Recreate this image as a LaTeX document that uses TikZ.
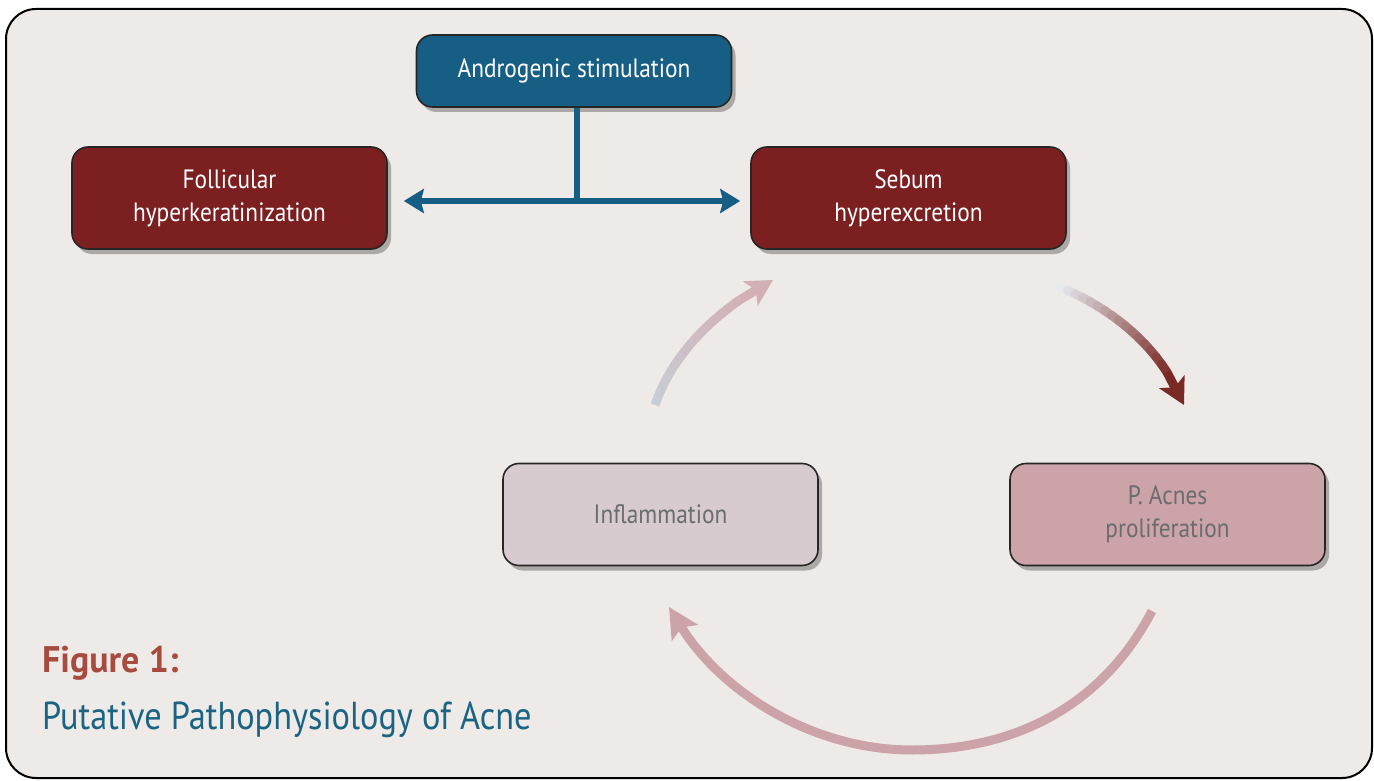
\documentclass[tikz,border=0pt]{standalone}
\usepackage{fontspec}
\setmainfont{PT Sans}[FakeStretch=0.88]
\newfontfamily\figfont{PT Sans}[FakeStretch=0.97]
\usetikzlibrary{arrows.meta,shadows,calc}
\definecolor{bgc}{HTML}{EEEAE7}
\definecolor{bluec}{HTML}{175E85}
\definecolor{redc}{HTML}{7B1F21}
\definecolor{lavc}{HTML}{D7CBD0}
\definecolor{pinkc}{HTML}{CBA3A8}
\definecolor{greytxt}{HTML}{6A6C6E}
\definecolor{figc}{HTML}{A84B3F}
\definecolor{subc}{HTML}{1B6383}
\definecolor{a1s}{HTML}{E6EAF0}
\definecolor{a1e}{HTML}{7A2A25}
\definecolor{a2s}{HTML}{C8CDD6}
\definecolor{a2e}{HTML}{D2B0B4}
\tikzset{
  box/.style={draw=black!85, line width=1.6pt, rounded corners=16pt,
    minimum width=315pt, minimum height=102pt, align=center,
    font=\fontsize{26.5}{33}\selectfont, text=white,
    drop shadow={shadow xshift=4pt, shadow yshift=-5pt, opacity=0.28, fill=black}},
  bluecon/.style={draw=bluec, line width=6pt},
  tipc/.style={-{Stealth[length=26pt,width=28pt,inset=6pt]}},
}
\begin{document}
\begin{tikzpicture}[x=1pt,y=-1pt]
\useasboundingbox (0,0) rectangle (1374,781);
\fill[white] (0,0) rectangle (1374,781);
\draw[line width=2pt, fill=bgc, rounded corners=30pt] (6,9) rectangle (1372,778);

% boxes
\node[box, fill=bluec, minimum height=72pt] (andro) at (574,71) {Androgenic stimulation};
\node[box, fill=redc] (foll) at (229.5,198) {Follicular\\hyperkeratinization};
\node[box, fill=redc] (sebum) at (908.5,198) {Sebum\\hyperexcretion};
\node[box, fill=lavc, text=greytxt] (infl) at (660.5,514.5) {Inflammation};
\node[box, fill=pinkc, text=greytxt] (pac) at (1167.5,514.5) {P. Acnes\\proliferation};

% blue connector
\coordinate (j) at (577,201);
\draw[bluecon] (andro.south -| j) -- (j);
\draw[bluecon, {Stealth[length=20pt,width=24pt,inset=3pt]}-{Stealth[length=20pt,width=24pt,inset=3pt]}]
  ($(foll.east |- j)+(16,0)$) -- ($(sebum.west |- j)+(-10,0)$);

% arrow 1: sebum -> P. acnes (gradient)
\coordinate (a1a) at (1060,287);
\coordinate (a1b) at (1184,405);
\path (a1a) .. controls (1110,308) and (1160,345) .. (a1b)
  foreach \i in {0,...,20} {coordinate[pos=\i/20] (g\i)};
\foreach \i [evaluate=\i as \j using int(\i+1), evaluate=\i as \p using 100*\i/16] in {0,...,15}
  {\draw[line width=9pt, color=a1e!\p!a1s, line cap=round] (g\i) -- (g\j);}
\draw[tipc, line width=9pt, a1e] (g16) -- (g20);

% arrow 2: inflammation -> sebum (gradient)
\coordinate (a2a) at (655,405);
\coordinate (a2b) at (773,280);
\path (a2a) .. controls (672,355) and (715,310) .. (a2b)
  foreach \i in {0,...,20} {coordinate[pos=\i/20] (h\i)};
\foreach \i [evaluate=\i as \j using int(\i+1), evaluate=\i as \p using 100*\i/16] in {0,...,15}
  {\draw[line width=9pt, color=a2e!\p!a2s] (h\i) -- (h\j);}
\draw[tipc, line width=9pt, a2e] (h16) -- (h20);

% arrow 3: P. acnes -> inflammation
\coordinate (a3a) at (1152,611);
\coordinate (a3m) at (912,750);
\coordinate (a3b) at (669,607);
\draw[line width=9pt, pinkc, -{Stealth[length=30pt,width=30pt,inset=6pt]}]
  (a3a) .. controls (1100,710) and (1010,750) .. (a3m)
        .. controls (810,750) and (720,690) .. (a3b);

% caption
\node[anchor=base west, inner sep=0pt, text=figc, font=\figfont\fontsize{37}{40}\selectfont\bfseries] (fig) at (42,672) {Figure 1:};
\node[anchor=base west, inner sep=0pt, text=subc, font=\fontsize{39}{42}\selectfont] (sub) at (42,729) {Putative Pathophysiology of Acne};
\end{tikzpicture}
\end{document}
